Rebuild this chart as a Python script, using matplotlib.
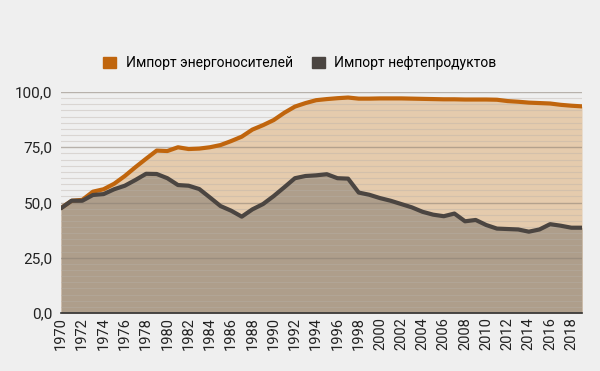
import matplotlib
matplotlib.use("Agg")
import matplotlib.pyplot as plt
from matplotlib.ticker import MultipleLocator, FuncFormatter
from matplotlib.patches import Patch

plt.rcParams['font.family'] = ['Roboto', 'DejaVu Sans']

years = list(range(1970, 2020))

energy_import = [47.5, 50.8, 51.2, 54.9, 56.0, 58.5, 62.0, 66.0, 69.8, 73.5,
                 73.3, 75.0, 74.2, 74.4, 75.0, 76.0, 77.8, 79.8, 83.0, 85.0,
                 87.3, 90.6, 93.4, 95.0, 96.3, 96.8, 97.2, 97.5, 97.0, 97.0,
                 97.1, 97.1, 97.1, 97.0, 96.9, 96.8, 96.7, 96.7, 96.6, 96.6,
                 96.6, 96.5, 95.9, 95.6, 95.2, 95.0, 94.8, 94.2, 93.8, 93.5]

oil_products = [47.4, 50.8, 50.8, 53.4, 53.8, 56.0, 57.6, 60.2, 63.0, 62.9,
                61.0, 57.9, 57.6, 56.1, 52.3, 48.4, 46.3, 43.6, 46.9, 49.3,
                52.9, 56.9, 61.0, 62.0, 62.3, 62.8, 61.0, 60.8, 54.5, 53.5,
                52.0, 50.8, 49.3, 47.8, 45.8, 44.5, 43.8, 45.0, 41.5, 42.1,
                39.8, 38.2, 38.0, 37.8, 36.8, 37.8, 40.2, 39.5, 38.6, 38.6]

labels = ["Импорт энергоносителей", "Импорт нефтепродуктов"]
line_colors = ["#c0650d", "#4b4541"]
fill_colors = ["#e5cbad", "#ae9e8b"]

fig = plt.figure(figsize=(6, 3.71), dpi=100, facecolor="#efefef")
ax = fig.add_axes([0.1017, 0.1563, 0.8683, 0.5957])
ax.set_facecolor("#efefef")

ax.fill_between(years, 0, energy_import, color=fill_colors[0], lw=0, zorder=1)
ax.fill_between(years, 0, oil_products, color=fill_colors[1], lw=0, zorder=2)

# grid on top of the fills
ax.yaxis.set_major_locator(MultipleLocator(25))
ax.yaxis.set_minor_locator(MultipleLocator(25 / 9))
ax.grid(axis="y", which="major", color="#8a7f74", alpha=0.55, lw=1, zorder=3)
ax.grid(axis="y", which="minor", color="#b8b0a8", alpha=0.4, lw=0.8, zorder=3)
ax.set_axisbelow(False)

ax.plot(years, energy_import, color=line_colors[0], lw=3, zorder=4,
        solid_capstyle="round", solid_joinstyle="round")
ax.plot(years, oil_products, color=line_colors[1], lw=3, zorder=5,
        solid_capstyle="round", solid_joinstyle="round")

ax.set_xlim(1970, 2019)
ax.set_ylim(0, 100)
ax.set_xticks(list(range(1970, 2019, 2)))
ax.tick_params(axis="x", rotation=90, labelsize=10.5, length=0, pad=3, colors="#222222")
ax.tick_params(axis="y", which="both", length=0, labelsize=11, pad=6, colors="#222222")
ax.yaxis.set_major_formatter(FuncFormatter(lambda v, p: f"{v:.1f}".replace(".", ",")))

for s in ["top", "right", "left"]:
    ax.spines[s].set_visible(False)
ax.spines["bottom"].set_color("#333333")
ax.spines["bottom"].set_linewidth(1.2)
ax.spines["bottom"].set_zorder(6)

handles = [Patch(color=line_colors[0]), Patch(color=line_colors[1])]
fig.legend(handles, labels, loc="center", bbox_to_anchor=(0.5, 0.83), ncol=2,
           frameon=False, fontsize=10, handlelength=0.9, handleheight=0.9,
           handletextpad=0.7, columnspacing=1.4)

fig.savefig("out.png", dpi=100, facecolor=fig.get_facecolor())
